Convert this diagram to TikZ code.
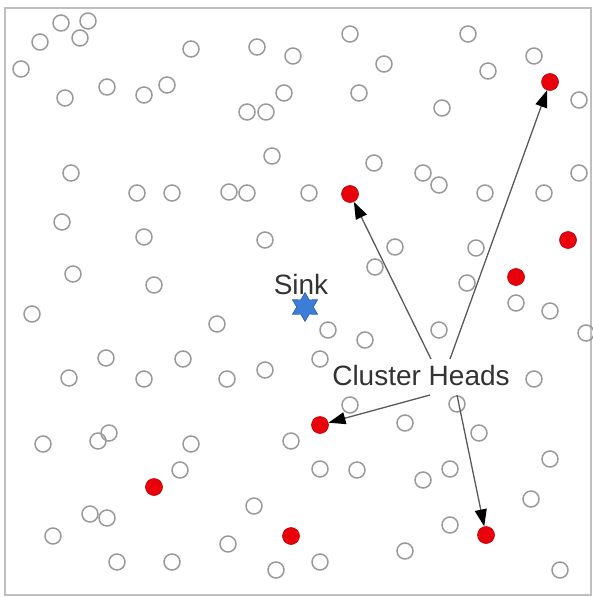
\documentclass[tikz,border=0pt]{standalone}
\usepackage{fontspec}
\setmainfont{Liberation Sans}
\usetikzlibrary{arrows.meta,shapes.geometric}

\definecolor{nodegray}{HTML}{9A9A9A}
\definecolor{headred}{HTML}{E8000B}
\definecolor{sinkblue}{HTML}{3C7DD9}
\definecolor{textgray}{HTML}{333333}

\tikzset{
  sensor/.style={circle, draw=nodegray, line width=1.5pt, minimum size=16pt, inner sep=0pt},
  head/.style={circle, fill=headred, draw=headred!80!black, line width=0.6pt, minimum size=17pt, inner sep=0pt},
  label/.style={text=textgray, font=\fontsize{28}{30}\selectfont, inner sep=0pt},
  pointer/.style={draw=black!65, line width=1.3pt, -{Triangle[length=17pt,width=12pt,color=black]}}
}

\begin{document}
\begin{tikzpicture}[x=1pt, y=-1pt]
      \useasboundingbox (0,0) rectangle (593,597);
      \draw[black!25, line width=2pt] (5,8) rectangle (591,595);

      % ordinary sensor nodes
      \foreach \px/\py [count=\i] in {61/23, 88/21, 40/42, 80/38, 21/69, 191/49, 257/47, 293/56,
          65/98, 107/87, 144/95, 167/85, 284/93, 247/112, 266/112, 272/156, 71/173, 137/193,
          172/193, 229/192, 247/193, 62/222, 144/237, 265/240, 73/274, 154/285,
          350/34, 468/34, 384/64, 488/71, 534/56, 579/100, 359/93, 442/108, 374/163, 423/173,
          439/185, 579/173, 309/193, 485/193, 544/193, 395/247, 476/248, 375/267, 467/283, 516/303,
          32/314, 217/324, 106/358, 183/359, 69/378, 144/379, 227/379, 265/370, 43/444, 109/433,
          98/441, 191/444, 291/441, 180/470, 254/506, 90/514, 107/518, 53/536, 228/544, 117/562,
          172/562, 276/570,
          550/311, 586/333, 328/330, 365/340, 439/330, 320/359, 534/379, 350/405, 457/404, 405/423,
          479/433, 550/459, 320/469, 357/470, 423/480, 450/469, 531/499, 450/525, 405/551, 320/562,
          560/570}
        \node[sensor] (s\i) at (\px,\py) {};

      % cluster heads
      \node[head] (h1) at (550,82) {};
      \node[head] (h2) at (350,194) {};
      \node[head] (h3) at (568,240) {};
      \node[head] (h4) at (516,277) {};
      \node[head] (h5) at (320,425) {};
      \node[head] (h6) at (154,487) {};
      \node[head] (h7) at (291,536) {};
      \node[head] (h8) at (486,535) {};

      % sink
      \node[star, star points=6, star point ratio=1.75, minimum size=29pt, inner sep=0pt,
            fill=sinkblue, draw=sinkblue!75!black, line width=0.6pt] (sink) at (305,307) {};
      \node[label] (sinklabel) at (301,284) {Sink};

      \node[label] (chlabel) at (421,375) {Cluster Heads};
      \coordinate (ch-a) at (431,359);
      \coordinate (ch-b) at (450,359);
      \coordinate (ch-c) at (430,395);
      \coordinate (ch-d) at (457,395);

      \draw[pointer] (ch-a) -- (h2);
      \draw[pointer] (ch-b) -- (h1);
      \draw[pointer] (ch-c) -- (h5);
      \draw[pointer] (ch-d) -- (h8);
\end{tikzpicture}
\end{document}
